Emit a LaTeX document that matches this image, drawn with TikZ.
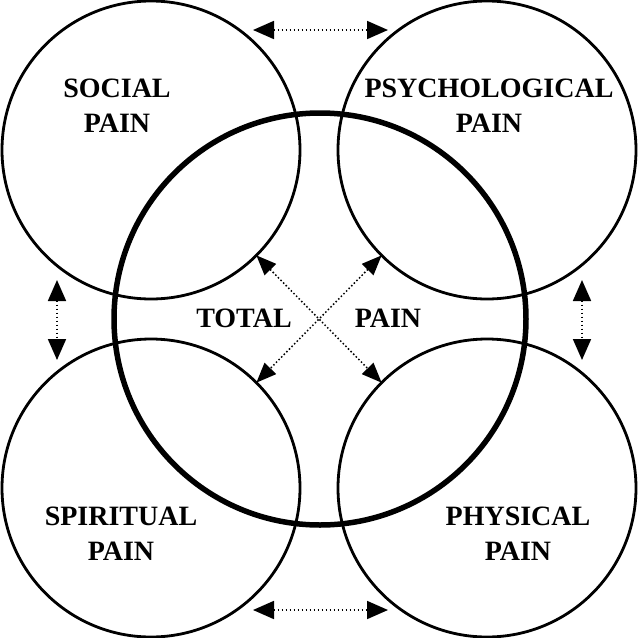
\documentclass[tikz,border=0pt]{standalone}
\usepackage{fontspec}
\setmainfont{Liberation Serif}
\usetikzlibrary{arrows.meta}
\begin{document}
\begin{tikzpicture}[x=1pt,y=-1pt,
  small/.style={circle,draw,line width=2.8pt,minimum size=298pt,inner sep=0pt,outer sep=0pt},
  big/.style={circle,draw,line width=5.5pt,minimum size=412pt,inner sep=0pt,outer sep=0pt},
  lbl/.style={font=\fontsize{28}{35}\selectfont\bfseries,align=center,inner sep=0pt},
  link/.style={line width=1.8pt,dash pattern=on 1.8pt off 2.2pt,
    {Triangle[length=21pt,width=18pt]}-{Triangle[length=21pt,width=18pt]}},
  xlink/.style={line width=1.5pt,dash pattern=on 1.5pt off 2.2pt,
    {Triangle[length=20pt,width=16pt]}-{Triangle[length=20pt,width=16pt]}},
]
\useasboundingbox (0,0) rectangle (638,638);
\node[small] (tl) at (151,150) {};
\node[small] (tr) at (487,150) {};
\node[small] (bl) at (151,488) {};
\node[small] (br) at (487,488) {};
\node[big] (total) at (320,319) {};

\node[lbl] (social) at (117,106) {SOCIAL\\PAIN};
\node[lbl] (psych) at (489,106) {PSYCHOLOGICAL\\PAIN};
\node[lbl] (spirit) at (121,534) {SPIRITUAL\\PAIN};
\node[lbl] (phys) at (518,534) {PHYSICAL\\PAIN};
\node[lbl] (tot) at (244,318) {TOTAL};
\node[lbl] (pain) at (388,318) {PAIN};

\coordinate (ta) at (253,30);
\coordinate (tb) at (388,30);
\coordinate (ba) at (253,610);
\coordinate (bb) at (388,610);
\coordinate (la) at (57,280);
\coordinate (lb) at (57,360);
\coordinate (ra) at (582,280);
\coordinate (rb) at (582,360);
\draw[link] (ta) -- (tb);
\draw[link] (ba) -- (bb);
\draw[link] (la) -- (lb);
\draw[link] (ra) -- (rb);

\draw[xlink] (tl.-45) -- (br.135);
\draw[xlink] (tr.-135) -- (bl.45);
\end{tikzpicture}
\end{document}
